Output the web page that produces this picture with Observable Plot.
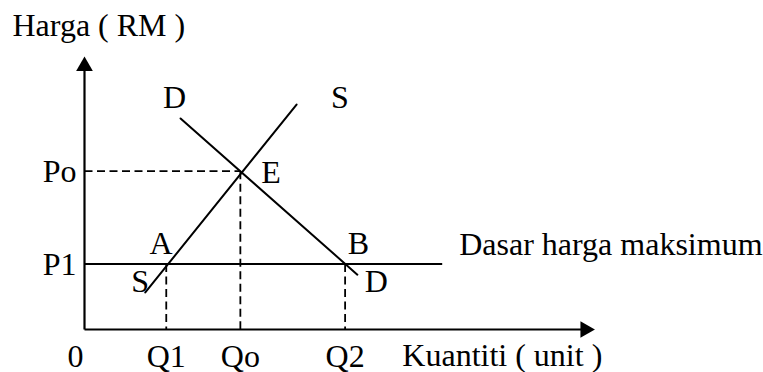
<!DOCTYPE html>
<html>
<head>
<meta charset="utf-8">
<script src="https://cdn.jsdelivr.net/npm/d3@7"></script>
<script src="https://cdn.jsdelivr.net/npm/@observablehq/plot@0.6"></script>
<style>
  html, body { margin: 0; padding: 0; background: #fff; }
</style>
</head>
<body>
<div id="chart"></div>
<script>
// Equilibrium values (abstract units: quantity 0-100, price 0-100)
const quantityLabels = ["Q1", "Qo", "Q2"];
const quantityValues = [16, 30.5, 51];
const priceLabels = ["Po", "P1"];
const priceValues = [58, 24];

// Supply and demand curve end points
const supplyX = [11.9, 41.5];
const supplyY = [13.6, 82.4];
const demandX = [18.8, 53.4];
const demandY = [77.3, 20.1];

// Price ceiling line end
const ceilingEndX = 70;
const axisMaxX = 98;
const axisMaxY = 96.5;

// Curve / point labels
const pointLabels = ["D", "S", "E", "A", "B", "S", "D"];
const pointLabelX = [17.6, 50.0, 36.5, 15.0, 53.6, 10.9, 57.1];
const pointLabelY = [81, 81, 53.8, 27.5, 27.5, 13.6, 13.6];

const yAxisTitle = "Harga ( RM )";
const xAxisTitle = "Kuantiti ( unit )";
const ceilingTitle = "Dasar harga maksimum";
const originLabel = "0";

const supply = supplyX.map((x, i) => ({x, y: supplyY[i]}));
const demand = demandX.map((x, i) => ({x, y: demandY[i]}));
const labels = pointLabels.map((t, i) => ({t, x: pointLabelX[i], y: pointLabelY[i]}));
const qTicks = quantityLabels.map((t, i) => ({t, x: quantityValues[i]}));
const pTicks = priceLabels.map((t, i) => ({t, y: priceValues[i]}));

const [Q1, Qo, Q2] = quantityValues;
const [Po, P1] = priceValues;

const font = "'Liberation Serif', 'Times New Roman', serif";
const fs = 32;
const dash = "8,4.5";

const chart = Plot.plot({
  width: 763,
  height: 372,
  marginLeft: 84,
  marginRight: 168,
  marginTop: 56,
  marginBottom: 43,
  x: {domain: [0, 100], axis: null},
  y: {domain: [0, 100], axis: null},
  style: {fontFamily: font, background: "white", color: "black", overflow: "visible"},
  marks: [
    // dashed guide lines
    Plot.link([{x1: 0, y1: Po, x2: Qo, y2: Po}], {x1: "x1", y1: "y1", x2: "x2", y2: "y2", stroke: "black", strokeWidth: 1.8, strokeDasharray: dash}),
    Plot.link([
      {x: Qo, y: Po},
      {x: Q1, y: P1},
      {x: Q2, y: P1}
    ], {x1: "x", y1: "y", x2: "x", y2: () => 0, stroke: "black", strokeWidth: 1.8, strokeDasharray: dash}),
    // price ceiling line
    Plot.link([{x1: 0, x2: ceilingEndX, y: P1}], {x1: "x1", x2: "x2", y1: "y", y2: "y", stroke: "black", strokeWidth: 2}),
    // supply & demand
    Plot.line(supply, {x: "x", y: "y", stroke: "black", strokeWidth: 2}),
    Plot.line(demand, {x: "x", y: "y", stroke: "black", strokeWidth: 2}),
    // axes
    Plot.link([{x1: 0, y1: 0, x2: 0, y2: axisMaxY}, {x1: 0, y1: 0, x2: axisMaxX, y2: 0}],
      {x1: "x1", y1: "y1", x2: "x2", y2: "y2", stroke: "black", strokeWidth: 2.2}),
    Plot.dot([{x: 0, y: axisMaxY}], {x: "x", y: "y", symbol: "triangle", r: 6.2, fill: "black", stroke: null}),
    Plot.dot([{x: axisMaxX, y: 0}], {x: "x", y: "y", symbol: "triangle", r: 6.2, fill: "black", stroke: null, rotate: 90}),
    // labels
    Plot.text(labels, {x: "x", y: "y", text: "t", fontSize: fs, lineAnchor: "bottom", textAnchor: "middle", fill: "black"}),
    Plot.text(pTicks, {x: () => 0, y: "y", dy: 11, dx: -8, text: "t", fontSize: fs, lineAnchor: "bottom", textAnchor: "end", fill: "black"}),
    Plot.text(qTicks, {x: "x", y: () => 0, dy: 37, text: "t", fontSize: fs, lineAnchor: "bottom", textAnchor: "middle", fill: "black"}),
    Plot.text([originLabel], {x: () => 0, y: () => 0, dx: -9, dy: 37, text: d => d, fontSize: fs, lineAnchor: "bottom", textAnchor: "middle", fill: "black"}),
    Plot.text([xAxisTitle], {x: () => 62.2, y: () => 0, dy: 36, text: d => d, fontSize: fs, lineAnchor: "bottom", textAnchor: "start", fill: "black"}),
    Plot.text([yAxisTitle], {x: () => 0, y: () => 100, dx: -72, dy: -21, text: d => d, fontSize: fs, lineAnchor: "bottom", textAnchor: "start", fill: "black"}),
    Plot.text([ceilingTitle], {x: () => ceilingEndX, y: () => P1, dx: 17, dy: -9, text: d => d, fontSize: fs, lineAnchor: "bottom", textAnchor: "start", fill: "black"})
  ]
});
document.getElementById("chart").appendChild(chart);
</script>
</body>
</html>
